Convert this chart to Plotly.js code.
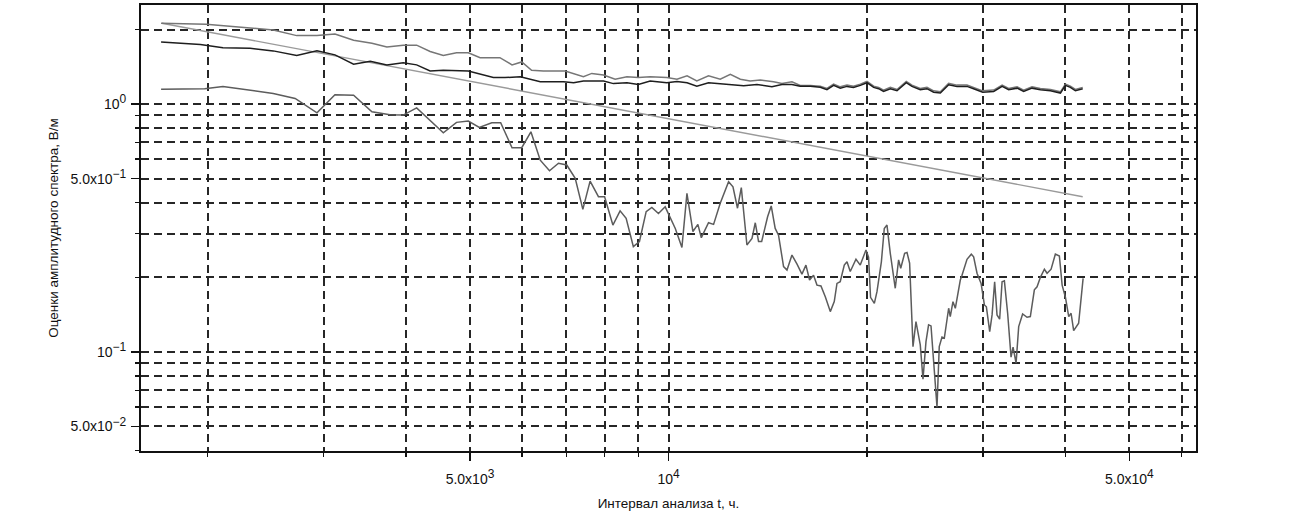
<!DOCTYPE html>
<html>
<head>
<meta charset="utf-8">
<script src="https://cdn.plot.ly/plotly-3.0.1.min.js"></script>
<style>
  html, body { margin: 0; padding: 0; background: #fff; }
  #plot { width: 1302px; height: 526px; }
</style>
</head>
<body>
<div id="plot"></div>
<script>
// Interval of analysis, hours, and amplitude estimates, V/m

// upper grey curve and black curve, first part (separate)
let tUpperHead = [1700, 1990, 2320, 2515, 2730, 2930, 3120, 3330, 3550, 3740, 3960, 4150, 4350, 4555, 4770, 4970,
  5180, 5360, 5550, 5790, 5990, 6200, 6460, 6970, 7430, 7650, 7970, 8300, 8650, 9000, 9380, 9940,
  10300, 10670, 11040, 11500, 11980, 12410, 12850, 13300, 13780, 14430, 14860, 15390, 15840, 16410, 16990];
let vUpperHead = [2.12, 2.10, 2.03, 1.99, 1.89, 1.89, 1.92, 1.81, 1.76, 1.70, 1.73, 1.73, 1.63, 1.57, 1.61, 1.61,
  1.54, 1.54, 1.54, 1.44, 1.48, 1.37, 1.36, 1.36, 1.29, 1.33, 1.31, 1.26, 1.29, 1.28, 1.29, 1.28,
  1.26, 1.30, 1.24, 1.30, 1.26, 1.32, 1.26, 1.24, 1.25, 1.23, 1.21, 1.23, 1.19, 1.19, 1.18];

let tBlackHead = [1700, 1950, 2110, 2320, 2515, 2730, 2930, 3120, 3330, 3530, 3740, 3960, 4150, 4350, 4555, 4970,
  5425, 5650, 5960, 6390, 6930, 7180, 7430, 7970, 8250, 8650, 9000, 9380, 9940, 10300, 10670, 11040,
  11500, 11980, 12410, 13000, 13620, 14350, 14860, 15390, 15840, 16410, 16990];
let vBlackHead = [1.78, 1.74, 1.69, 1.68, 1.64, 1.57, 1.64, 1.58, 1.45, 1.49, 1.44, 1.47, 1.44, 1.36, 1.37, 1.36,
  1.28, 1.28, 1.29, 1.23, 1.23, 1.22, 1.24, 1.24, 1.21, 1.22, 1.20, 1.24, 1.22, 1.235, 1.22, 1.18,
  1.22, 1.21, 1.20, 1.185, 1.20, 1.175, 1.20, 1.20, 1.18, 1.18, 1.17];

// second part, where the two curves nearly coincide
let tTail = [17390, 17800, 18220, 18650, 19080, 19540, 20000, 20470, 20830, 21190, 21700, 22210, 22940, 23400,
  24090, 24660, 25240, 25840, 26600, 27390, 28360, 29020, 29960, 31130, 32060, 32800, 33780, 34560,
  35590, 36640, 37950, 39300, 39990, 40690, 41410, 42480];
let vUpperTail = [1.157, 1.204, 1.174, 1.193, 1.182, 1.204, 1.235, 1.182, 1.168, 1.139, 1.168, 1.146, 1.235, 1.193,
  1.157, 1.168, 1.131, 1.121, 1.212, 1.193, 1.193, 1.168, 1.131, 1.139, 1.193, 1.157, 1.174, 1.139,
  1.174, 1.157, 1.146, 1.121, 1.204, 1.182, 1.146, 1.168];
let vBlackTail = [1.143, 1.190, 1.160, 1.179, 1.168, 1.190, 1.220, 1.168, 1.154, 1.125, 1.154, 1.132, 1.220, 1.179,
  1.143, 1.154, 1.117, 1.108, 1.197, 1.179, 1.179, 1.154, 1.117, 1.125, 1.179, 1.143, 1.160, 1.125,
  1.160, 1.143, 1.132, 1.108, 1.190, 1.168, 1.132, 1.154];

// straight light grey line
let tFit = [1705, 42480];
let vFit = [2.12, 0.423];

// lower noisy curve
let tLower = [1700, 1980, 2110, 2320, 2515, 2715, 2930, 3120, 3330, 3550,
  3780, 3960, 4150, 4555, 4770, 4970, 5165, 5395, 5565, 5790,
  5990, 6185, 6390, 6600, 6810, 7010, 7220, 7415, 7605, 7830,
  8000, 8235, 8445, 8625, 8845, 9035, 9250, 9435, 9655, 9885,
  10240, 10480, 10665, 10890, 11080, 11215, 11500, 11705, 11980, 12335,
  12525, 12725, 12895, 13150, 13385, 13540, 13695, 13845, 14135, 14315,
  14515, 14685, 14945, 15125, 15390, 15665, 15935, 16160, 16365, 16595,
  16795, 17030, 17290, 17595, 17840, 18010, 18215, 18475, 18650, 18865,
  19245, 19535, 19930, 20110, 20250, 20520, 20710, 21030, 21245, 21445,
  21695, 22075, 22335, 22500, 22810, 23000, 23210, 23485, 23730, 24090,
  24320, 24575, 24800, 25010, 25240, 25540, 25740, 25990, 26200, 26600,
  26750, 27005, 27225, 27705, 27870, 28360, 28790, 29025, 29370, 29790,
  30135, 30345, 30700, 30955, 31235, 31495, 31785, 32055, 32315, 32685,
  33075, 33310, 33660, 33970, 34440, 34975, 35380, 35880, 36220, 36645,
  37160, 37510, 38040, 38615, 39155, 39535, 39990, 40455, 40790, 41160,
  41880, 42540];
let vLower = [1.149, 1.153, 1.179, 1.139, 1.104, 1.054, 0.922, 1.090, 1.087, 0.931,
  0.906, 0.903, 0.966, 0.766, 0.844, 0.854, 0.805, 0.841, 0.841, 0.667,
  0.667, 0.773, 0.594, 0.538, 0.577, 0.568, 0.502, 0.376, 0.489, 0.423,
  0.423, 0.325, 0.371, 0.346, 0.266, 0.279, 0.368, 0.383, 0.362, 0.385,
  0.315, 0.264, 0.436, 0.306, 0.327, 0.289, 0.332, 0.327, 0.398, 0.486,
  0.464, 0.380, 0.460, 0.270, 0.287, 0.332, 0.279, 0.279, 0.351, 0.388,
  0.315, 0.296, 0.221, 0.214, 0.246, 0.226, 0.206, 0.224, 0.195, 0.204,
  0.186, 0.1845, 0.167, 0.1454, 0.1595, 0.189, 0.192, 0.224, 0.231, 0.211,
  0.2365, 0.224, 0.258, 0.241, 0.166, 0.157, 0.175, 0.231, 0.315, 0.325,
  0.250, 0.1806, 0.235, 0.2176, 0.250, 0.252, 0.228, 0.105, 0.1325, 0.1067,
  0.0776, 0.110, 0.1285, 0.1273, 0.0928, 0.0598, 0.105, 0.1147, 0.1137, 0.150,
  0.1388, 0.1595, 0.150, 0.195, 0.204, 0.2365, 0.248, 0.242, 0.2077, 0.189,
  0.1547, 0.152, 0.1207, 0.141, 0.192, 0.141, 0.1355, 0.192, 0.1935, 0.1432,
  0.0952, 0.1045, 0.090, 0.1265, 0.1423, 0.138, 0.1388, 0.178, 0.183, 0.200,
  0.2156, 0.2077, 0.2156, 0.2484, 0.2438, 0.186, 0.1662, 0.1388, 0.1432, 0.1219,
  0.1305, 0.198];

// axis ticks
let sup = s => '<sup><span style="font-size:12px">' + s + '</span></sup>';
let xMajor = [5000, 10000, 50000];
let xMajorText = ['5.0x10' + sup('3'), '10' + sup('4'), '5.0x10' + sup('4')];
let xMinor = [2000, 3000, 4000, 6000, 7000, 8000, 9000, 20000, 30000, 40000, 60000];
let yMajor = [0.05, 0.1, 0.5, 1];
let yMajorText = ['5.0x10' + sup('\u22122'), '10' + sup('\u22121'), '5.0x10' + sup('\u22121'), '10' + sup('0')];
let yMinor = [0.04, 0.06, 0.07, 0.08, 0.09, 0.2, 0.3, 0.4, 0.6, 0.7, 0.8, 0.9, 2];

let gridDash = '8px,5px';
let ink = '#111';

function line(x, y, color, width) {
    return {x: x, y: y, mode: 'lines', type: 'scatter', line: {color: color, width: width}, hoverinfo: 'x+y'};
}

let data = [
    line(tFit, vFit, '#9a9a9a', 1.4),
    line(tLower, vLower, '#5c5c5c', 1.5),
    line(tUpperHead.concat(tTail), vUpperHead.concat(vUpperTail), '#767676', 1.5),
    line(tBlackHead.concat(tTail), vBlackHead.concat(vBlackTail), '#1e1e1e', 1.5)
];

function axis(range, major, majorText, minor, title, standoff, labelGap) {
    return {
        type: 'log',
        range: range,
        tickmode: 'array',
        tickvals: major,
        ticktext: majorText,
        ticks: 'outside',
        ticklen: 8,
        tickwidth: 1.5,
        tickcolor: ink,
        ticklabelstandoff: labelGap,
        showgrid: true,
        gridcolor: '#262626',
        gridwidth: 2,
        griddash: gridDash,
        minor: {
            tickmode: 'array',
            tickvals: minor,
            ticks: 'outside',
            ticklen: 4,
            tickwidth: 1.5,
            tickcolor: ink,
            showgrid: true,
            gridcolor: '#262626',
            gridwidth: 2,
            griddash: gridDash
        },
        showline: true,
        linecolor: ink,
        linewidth: 2,
        mirror: true,
        zeroline: false,
        tickfont: {size: 14, color: ink},
        title: {text: title, standoff: standoff, font: {size: 13.5, color: ink}}
    };
}

let layout = {
    width: 1302,
    height: 526,
    margin: {l: 141, r: 106, t: 5, b: 75},
    paper_bgcolor: '#fff',
    plot_bgcolor: '#fff',
    showlegend: false,
    font: {family: '"Liberation Sans", Arial, sans-serif', size: 13.5, color: ink},
    xaxis: axis([3.2, 4.8], xMajor, xMajorText, xMinor, 'Интервал анализа t, ч.', 13, 6),
    yaxis: axis([-1.4, 0.4], yMajor, yMajorText, yMinor, 'Оценки амплитудного спектра, В/м', 9, 2)
};

Plotly.newPlot('plot', data, layout, {displayModeBar: false, staticPlot: true});
</script>
</body>
</html>
